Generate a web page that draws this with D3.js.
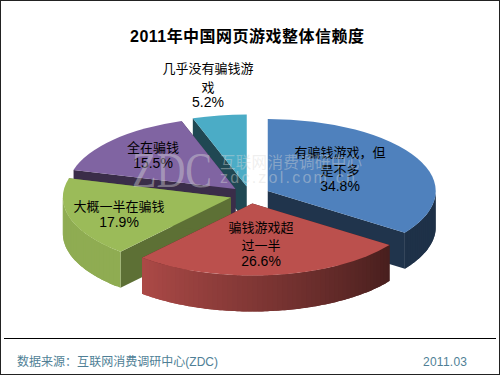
<!DOCTYPE html>
<html>
<head>
<meta charset="utf-8">
<script src="https://cdn.jsdelivr.net/npm/d3@7"></script>
<style>
html, body { margin: 0; padding: 0; background: #fff; }
svg { display: block; }
text { font-family: "Liberation Sans", "Noto Sans CJK SC", sans-serif; }
</style>
</head>
<body>
<svg id="chart" width="500" height="375"></svg>
<script>
var titleText = "2011年中国网页游戏整体信赖度";
var sourceText = "数据来源：互联网消费调研中心(ZDC)";
var dateText = "2011.03";
var categories = ["有骗钱游戏，但是不多", "骗钱游戏超过一半", "大概一半在骗钱", "全在骗钱", "几乎没有骗钱游戏"];
var values = [34.8, 26.6, 17.9, 15.5, 5.2];
var colors = ["#4f81bd", "#bb504d", "#9bbb59", "#8064a2", "#4bacc6"];
// label text broken the way the chart breaks it
var labelLines = [["有骗钱游戏，但", "是不多"], ["骗钱游戏超", "过一半"], ["大概一半在骗钱"], ["全在骗钱"], ["几乎没有骗钱游", "戏"]];

var svg = d3.select("#chart");

// the ellipse the pie is squashed into
var cx = 250, cy = 195, rx = 168, ry = 72, depth = 36;
var explode = 0.119;

var x = d3.scaleLinear().domain([-1, 1]).range([cx - rx, cx + rx]);
var y = d3.scaleLinear().domain([-1, 1]).range([cy - ry, cy + ry]);

// rim goes from dark on the right to light on the left
var rimShade = d3.scaleLinear().domain([125, 221]).range([0.38, 0.92]).clamp(true);
// cut faces, per slice
var faceShade = [0.4, 0.4, 0.6, 0.45, 0.42];

function shaded(c, k) {
  var r = d3.rgb(c);
  return d3.rgb(r.r * k, r.g * k, r.b * k).formatHex();
}

var slices = d3.pie().sort(null).value(function (d) { return d; })(values);
slices.forEach(function (s) {
  var mid = (s.startAngle + s.endAngle) / 2;
  s.ox = explode * Math.sin(mid);
  s.oy = -explode * Math.cos(mid);
});

function px(s, a) { return x(s.ox + Math.sin(a)); }
function py(s, a) { return y(s.oy - Math.cos(a)); }

var unitArc = d3.arc().innerRadius(0).outerRadius(1);

// back to front
var drawOrder = [4, 3, 0, 2, 1];
var pie = svg.append("g");

drawOrder.forEach(function (i) {
  var s = slices[i];
  var g = pie.append("g");
  var line = d3.line();

  // the two cut faces
  [s.startAngle, s.endAngle].forEach(function (a) {
    var ax = x(s.ox), ay = y(s.oy);
    g.append("path")
      .attr("d", line([[ax, ay], [px(s, a), py(s, a)], [px(s, a), py(s, a) + depth], [ax, ay + depth]]) + "Z")
      .attr("fill", shaded(colors[i], faceShade[i]));
  });

  // rim, in thin facets so the shading can change along it.
  // each one runs on under the next so no seams show
  var from = Math.max(s.startAngle, Math.PI / 2);
  var to = Math.min(s.endAngle, Math.PI * 1.5);
  if (to > from) {
    var step = (to - from) / Math.ceil((to - from) / 0.03);
    d3.range(from, to - 1e-6, step).forEach(function (a) {
      var b = Math.min(a + step * 2, to);
      var top = d3.range(a, b, step / 2).concat([b]);
      var edge = top.map(function (t) { return [px(s, t), py(s, t)]; });
      var under = top.slice().reverse().map(function (t) { return [px(s, t), py(s, t) + depth]; });
      g.append("path")
        .attr("d", line(edge.concat(under)) + "Z")
        .attr("fill", shaded(colors[i], rimShade((a + step / 2) * 180 / Math.PI)));
    });
  }

  // top
  g.append("path")
    .attr("d", unitArc(s))
    .attr("transform", "translate(" + x(s.ox) + "," + y(s.oy) + ") scale(" + rx + "," + ry + ")")
    .attr("fill", colors[i]);
});

// slice labels, centre of each block and the line y's
var labelX = [340, 261, 119, 153, 208];
var labelY = [[152, 170, 186], [227, 245, 261], [206, 222], [147, 163], [68, 87, 102]];

values.forEach(function (v, i) {
  var lines = labelLines[i].concat([v.toFixed(1) + "%"]);
  svg.append("g").selectAll("text")
    .data(lines)
    .join("text")
    .attr("x", labelX[i])
    .attr("y", function (d, j) { return labelY[i][j]; })
    .attr("text-anchor", "middle")
    .attr("dominant-baseline", "central")
    .attr("font-size", function (d, j) { return j === lines.length - 1 ? 14 : 13; })
    .attr("fill", "#000")
    .text(function (d) { return d; });
});

// watermark
var mark = svg.append("g").attr("fill", "#d8d8d8").attr("fill-opacity", 0.42);
mark.append("text")
  .attr("x", 132).attr("y", 187)
  .attr("font-size", 50)
  .attr("textLength", 80)
  .attr("lengthAdjust", "spacingAndGlyphs")
  .style("font-family", "'Liberation Serif', serif")
  .text("ZDC");
mark.append("text")
  .attr("x", 220).attr("y", 168)
  .attr("font-size", 15.5)
  .attr("textLength", 142)
  .text("互联网消费调研中心");
mark.append("text")
  .attr("x", 220).attr("y", 183)
  .attr("font-size", 16)
  .attr("textLength", 135)
  .text("zdc.zol.com.cn");

// title
svg.append("text")
  .attr("x", 247).attr("y", 42)
  .attr("text-anchor", "middle")
  .attr("font-size", 16)
  .attr("font-weight", "bold")
  .attr("textLength", 234)
  .attr("fill", "#000")
  .text(titleText);

// footer rule and text
svg.append("line")
  .attr("x1", 4).attr("x2", 496)
  .attr("y1", 338.5).attr("y2", 338.5)
  .attr("stroke", "#000");
svg.append("text")
  .attr("x", 17).attr("y", 366)
  .attr("font-size", 12)
  .attr("textLength", 201)
  .attr("fill", "#4f7f96")
  .text(sourceText);
svg.append("text")
  .attr("x", 423).attr("y", 366)
  .attr("font-size", 12)
  .attr("textLength", 44)
  .attr("fill", "#4f7f96")
  .text(dateText);

// outer frame
svg.append("rect")
  .attr("x", 0.5).attr("y", 0.5)
  .attr("width", 499).attr("height", 374)
  .attr("fill", "none")
  .attr("stroke", "#222");
</script>
</body>
</html>
